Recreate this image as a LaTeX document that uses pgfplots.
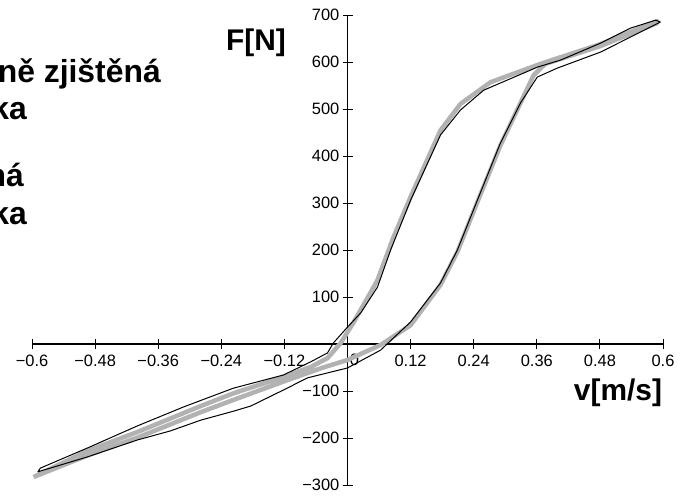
\documentclass[border=0pt]{standalone}
\usepackage{fontspec}
\setmainfont{Liberation Sans}
\usepackage{pgfplots}
\pgfplotsset{compat=1.18}
\usepackage{pgfplotstable}

\definecolor{measgray}{RGB}{178,178,178}

% measured loop (grey band)
\pgfplotstableread{
v F
-0.597 -283
-0.494 -237
-0.399 -199
-0.279 -145
-0.217 -119
-0.122 -80
-0.049 -51
0.000 -34
0.063 -2
0.120 40
0.177 126
0.209 196
0.247 302
0.291 423
0.329 513
0.354 572
0.376 596
0.481 634
0.589 683
0.589 687
0.481 638
0.367 596
0.272 557
0.215 511
0.177 455
0.120 313
0.087 226
0.057 136
0.038 98
0.011 45
-0.013 2
-0.038 -30
-0.070 -49
-0.122 -70
-0.217 -105
-0.279 -132
-0.399 -187
-0.494 -227
-0.597 -283
}\measured

% computed loop (thin black line)
\pgfplotstableread{
v F
-0.589 -272
-0.494 -240
-0.399 -204
-0.337 -185
-0.279 -162
-0.217 -143
-0.184 -132
-0.122 -98
-0.076 -72
0.000 -51
0.063 -13
0.120 47
0.177 130
0.209 200
0.247 306
0.291 428
0.329 513
0.361 568
0.399 587
0.481 621
0.538 653
0.595 685
0.586 689
0.538 672
0.481 640
0.405 604
0.361 589
0.259 540
0.215 498
0.177 445
0.120 306
0.082 200
0.057 121
0.025 66
0.000 36
-0.027 2
-0.038 -19
-0.070 -38
-0.122 -66
-0.217 -94
-0.312 -134
-0.399 -174
-0.494 -221
-0.584 -264
-0.589 -272
}\computed

\begin{document}
\begin{tikzpicture}
\useasboundingbox (0,0) rectangle (685bp,496bp);
\begin{axis}[
  at={(32bp,11bp)}, anchor=south west,
  scale only axis, width=631bp, height=470bp,
  xmin=-0.6, xmax=0.6, ymin=-300, ymax=700,
  axis lines=middle,
  axis line style={-, line width=1.2bp, black},
  clip=false,
  xtick={-0.6,-0.48,-0.36,-0.24,-0.12,0.12,0.24,0.36,0.48,0.6},
  xticklabels={−0.6,−0.48,−0.36,−0.24,−0.12,0.12,0.24,0.36,0.48,0.6},
  ytick={-300,-200,-100,100,200,300,400,500,600,700},
  yticklabels={−300,−200,−100,100,200,300,400,500,600,700},
  extra x ticks={0},
  extra x tick labels={0},
  extra x tick style={major tick length=0pt, xticklabel style={xshift=7bp, yshift=-4bp}},
  major tick length=10bp,
  tick align=center,
  tick style={black, line width=1bp},
  ticklabel style={font=\fontsize{16.5}{18}\selectfont, inner sep=2bp},
  xticklabel style={yshift=-4bp},
  yticklabel style={xshift=-1bp},
  /pgf/number format/assume math mode=true,
]
\addplot[measgray, line width=4.5bp, line join=round] table[x=v, y=F] {\measured};
\addplot[black, line width=1bp, line join=round] table[x=v, y=F] {\computed};
\end{axis}

\begin{scope}
\clip (0,0) rectangle (685bp,496bp);
\begin{scope}[every node/.style={inner sep=0pt, font=\fontsize{30}{36}\selectfont\bfseries}]
\node at (256bp,453bp) {F[N]};
\node at (618bp,103bp) {v[m/s]};
\end{scope}
\begin{scope}[every node/.style={inner sep=0pt, font=\fontsize{32}{38}\selectfont\bfseries}]
\node[anchor=base east] at (161bp,413bp) {Experimentálně zjištěná};
\node[anchor=base east] at (27bp,376bp) {charakteristika};
\node[anchor=base east] at (24bp,309bp) {Vypočtená};
\node[anchor=base east] at (27bp,271bp) {charakteristika};
\end{scope}
\end{scope}
\end{tikzpicture}
\end{document}
